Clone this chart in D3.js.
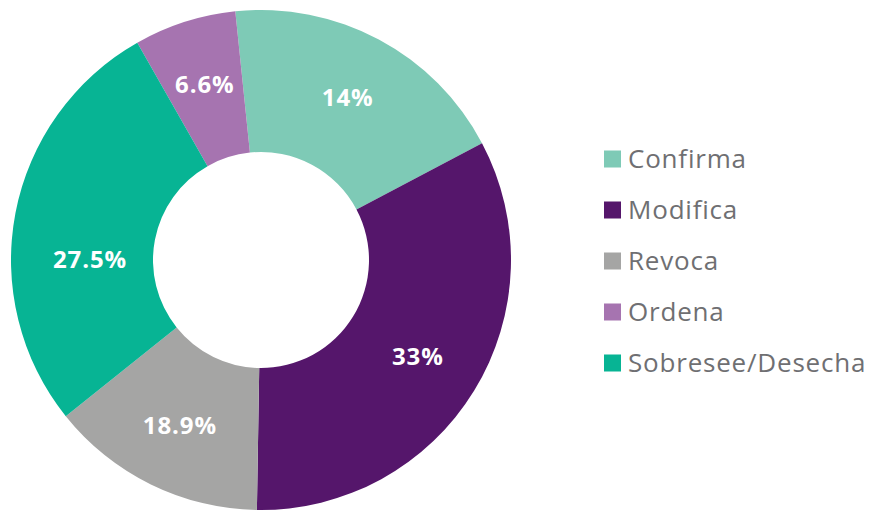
<!DOCTYPE html>
<html>
<head>
<meta charset="utf-8">
<script src="https://cdn.jsdelivr.net/npm/d3@7"></script>
<style>
  body { margin: 0; background: #fff; }
  #chart svg { display: block; }
</style>
</head>
<body>
<div id="chart"></div>
<script>
// Step 1: basic structure
const width = 873;
const height = 510;

const svg = d3.select("#chart")
    .append("svg")
    .attr("width", width)
    .attr("height", height);

// Step 2: data (slice sizes; labels as printed)
const categories = ["Confirma", "Modifica", "Revoca", "Ordena", "Sobresee/Desecha"];
const values = [18.9, 33, 14, 6.6, 27.5];
const labels = ["14%", "33%", "18.9%", "6.6%", "27.5%"];
const colors = ["#7ecab6", "#55166b", "#a5a5a4", "#a674b0", "#07b494"];
// clockwise drawing order of the ring
const ringOrder = ["Confirma", "Modifica", "Revoca", "Sobresee/Desecha", "Ordena"];

// Step 3: pie + arc
const cx = 261, cy = 260;
const outerR = 250, innerR = 108;
const offset = -5.9 * Math.PI / 180;
const labelR = 184;
// the big teal label sits above its slice middle and nearer the hole in the original
const labelShift = { "Sobresee/Desecha": { a: -10.5 * Math.PI / 180, r: 171 } };

const pie = d3.pie()
    .value(i => values[i])
    .sort((a, b) => ringOrder.indexOf(categories[a]) - ringOrder.indexOf(categories[b]))
    .startAngle(offset)
    .endAngle(offset + 2 * Math.PI);

const arc = d3.arc().innerRadius(innerR).outerRadius(outerR);

const color = d3.scaleOrdinal().domain(categories).range(colors);

const g = svg.append("g").attr("transform", `translate(${cx},${cy})`);

const slices = pie(d3.range(categories.length));

g.selectAll("path")
    .data(slices)
    .join("path")
    .attr("d", arc)
    .attr("fill", d => color(categories[d.data]));

function labelPos(d) {
    const s = labelShift[categories[d.data]] || { a: 0, r: labelR };
    const a = (d.startAngle + d.endAngle) / 2 + s.a;
    return [s.r * Math.sin(a), -s.r * Math.cos(a)];
}

g.selectAll("text")
    .data(slices)
    .join("text")
    .attr("transform", d => `translate(${labelPos(d)})`)
    .attr("text-anchor", "middle")
    .attr("dy", "0.36em")
    .attr("fill", "#fff")
    .attr("font-family", "'Open Sans', sans-serif")
    .attr("font-weight", "bold")
    .attr("font-size", 24)
    .attr("letter-spacing", 0.9)
    .text(d => labels[d.data]);

// Step 4: legend
const legendY = d3.scalePoint().domain(categories).range([159, 363]);

const legend = svg.append("g").selectAll("g")
    .data(categories)
    .join("g")
    .attr("transform", d => `translate(604,${legendY(d)})`);

legend.append("rect")
    .attr("x", 0)
    .attr("y", -8.5)
    .attr("width", 17)
    .attr("height", 17)
    .attr("fill", d => color(d));

legend.append("text")
    .attr("x", 24)
    .attr("dy", "0.36em")
    .attr("fill", "#6f6f72")
    .attr("font-family", "'Open Sans', sans-serif")
    .attr("font-size", 26)
    .attr("letter-spacing", 0.8)
    .text(d => d);
</script>
</body>
</html>
